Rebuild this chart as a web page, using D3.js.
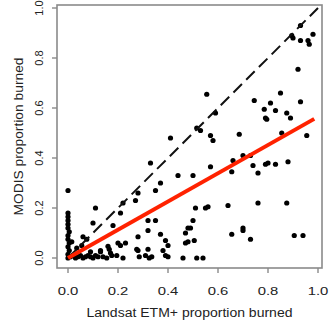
<html>
<head>
<script src="https://d3js.org/d3.v7.min.js"></script>
<style>
body { margin: 0; background: #fff; }
svg { display: block; }
text { font-family: "Liberation Sans", Arial, sans-serif; fill: #222; }
</style>
</head>
<body>
<svg></svg>
<script>

var width = 329;
var height = 323;

// Landsat ETM+ proportion burned (x) vs MODIS proportion burned (y)
var landsat = [
	0.93, 0.895, 0.90, 0.93, 0.96, 0.965, 0.98, 0.92,
	0.555, 0.85, 0.745, 0.81, 0.93, 0.59, 0.785, 0.83, 0.875, 0.89, 0.79, 0.795,
	0.53, 0.515, 0.57, 0.58, 0.685, 0.855, 0.955, 0.41,
	0.50, 0.57, 0.655, 0.66, 0.70, 0.73, 0.74, 0.76, 0.79, 0.80, 0.83, 0.88,
	0.51, 0.55, 0.56, 0.64, 0.76, 0.875,
	0.50, 0.49, 0.505, 0.655, 0.70, 0.70, 0.73, 0.905, 0.94, 0.54,
	0.33, 0.44, 0.37, 0.35, 0.28, 0.27, 0.22, 0.11, 0.10, 0.21, 0.32, 0.35, 0.18, 0.32,
	0.48, 0.47, 0.28, 0.37, 0.39, 0.06, 0.075, 0.16, 0.20, 0.21, 0.13, 0.165, 0.175,
	0.22, 0.275, 0.32, 0.285, 0.325, 0.40, 0.46, 0.515, 0.0,
	0.0, 0.0, 0.0, 0.0, 0.0, 0.005, 0.0, 0.0, 0.005, 0.0, 0.005, 0.0, 0.0,
	0.01, 0.02, 0.03, 0.04, 0.05, 0.06, 0.07, 0.08, 0.09, 0.10, 0.11, 0.12, 0.14, 0.155,
	0.17, 0.23, 0.195, 0.28, 0.31, 0.335, 0.39, 0.38, 0.09, 0.13, 0.055, 0.035, 0.015,
	0.40, 0.47, 0.48
];
var modis = [
	0.93, 0.89, 0.88, 0.87, 0.87, 0.855, 0.895, 0.755,
	0.655, 0.66, 0.63, 0.62, 0.625, 0.58, 0.595, 0.59, 0.58, 0.56, 0.56, 0.555,
	0.51, 0.52, 0.49, 0.47, 0.495, 0.50, 0.49, 0.48,
	0.33, 0.365, 0.345, 0.39, 0.41, 0.41, 0.37, 0.34, 0.375, 0.38, 0.375, 0.385,
	0.20, 0.20, 0.205, 0.21, 0.22, 0.22,
	0.15, 0.12, 0.07, 0.095, 0.12, 0.11, 0.075, 0.09, 0.09, 0.0,
	0.38, 0.33, 0.30, 0.27, 0.26, 0.23, 0.22, 0.20, 0.14, 0.18, 0.15, 0.15, 0.13, 0.11,
	0.12, 0.10, 0.085, 0.095, 0.07, 0.085, 0.075, 0.047, 0.06, 0.05, 0.025, 0.035, 0.01,
	0.0, 0.035, 0.035, 0.005, 0.0, 0.005, 0.0, 0.0, 0.27,
	0.18, 0.165, 0.15, 0.135, 0.12, 0.105, 0.09, 0.075, 0.06, 0.045, 0.03, 0.015, 0.0,
	0.005, 0.01, 0.0, 0.005, 0.01, 0.0, 0.005, 0.01, 0.005, 0.0, 0.01, 0.005, 0.005, 0.0,
	0.02, 0.06, 0.01, 0.03, 0.01, 0.005, 0.01, 0.03, 0.025, 0.03, 0.05, 0.04, 0.065,
	0.05, 0.06, 0.065
];

var ticks = [0.0, 0.2, 0.4, 0.6, 0.8, 1.0];
var tickLabels = ["0.0", "0.2", "0.4", "0.6", "0.8", "1.0"];

// 1:1 reference line and fitted regression
var oneToOne = [[0, 0], [1, 1]];
var fitIntercept = 0.0;
var fitSlope = 0.565;
var fitRange = [0, 0.985];

var svg = d3.select("svg").attr("width", width).attr("height", height);

var xScale = d3.scaleLinear().domain([0, 1]).range([68, 318]);
var yScale = d3.scaleLinear().domain([0, 1]).range([258, 8]);

// frame (cropped figure, so the box edges sit a little off the usual 4%)
var box = { x0: -0.044, x1: 1.016, y0: -0.04, y1: 1.012 };
svg.append("rect")
.attr("x", xScale(box.x0))
.attr("y", yScale(box.y1))
.attr("width", xScale(box.x1) - xScale(box.x0))
.attr("height", yScale(box.y0) - yScale(box.y1))
.style("fill", "none")
.style("stroke", "#8a8a8a")
.style("stroke-width", 1.6);

// x axis ticks + labels
var xAxis = svg.append("g").attr("transform", "translate(0," + yScale(box.y0) + ")");
xAxis.selectAll("line").data(ticks).enter().append("line")
.attr("x1", function (d) { return xScale(d); })
.attr("x2", function (d) { return xScale(d); })
.attr("y1", 0).attr("y2", 5)
.style("stroke", "#8a8a8a").style("stroke-width", 1.4);
xAxis.selectAll("text").data(ticks).enter().append("text")
.attr("transform", function (d) { return "translate(" + xScale(d) + ",27) scale(1.35,1)"; })
.attr("text-anchor", "middle")
.style("font-size", "11px")
.text(function (d, i) { return tickLabels[i]; });

// y axis ticks + labels
var yAxis = svg.append("g").attr("transform", "translate(" + xScale(box.x0) + ",0)");
yAxis.selectAll("line").data(ticks).enter().append("line")
.attr("y1", function (d) { return yScale(d); })
.attr("y2", function (d) { return yScale(d); })
.attr("x1", 0).attr("x2", -5)
.style("stroke", "#8a8a8a").style("stroke-width", 1.4);
yAxis.selectAll("text").data(ticks).enter().append("text")
.attr("transform", function (d) { return "translate(-14," + yScale(d) + ") rotate(-90)"; })
.attr("text-anchor", "middle")
.style("font-size", "11px")
.text(function (d, i) { return tickLabels[i]; });

// axis titles
var midX = (xScale(box.x0) + xScale(box.x1)) / 2;
var midY = (yScale(box.y0) + yScale(box.y1)) / 2;
svg.append("text")
.attr("x", midX).attr("y", 317)
.attr("text-anchor", "middle")
.attr("textLength", 206).attr("lengthAdjust", "spacingAndGlyphs")
.style("font-size", "12px")
.text("Landsat ETM+ proportion burned");
svg.append("text")
.attr("transform", "translate(23," + midY + ") rotate(-90)")
.attr("text-anchor", "middle")
.attr("textLength", 158).attr("lengthAdjust", "spacingAndGlyphs")
.style("font-size", "13px")
.text("MODIS proportion burned");

// points
var points = d3.zip(landsat, modis);
svg.selectAll("circle").data(points).enter().append("circle")
.attr("cx", function (d) { return xScale(d[0]); })
.attr("cy", function (d) { return yScale(d[1]); })
.attr("r", 2.6)
.style("fill", "#000");

var line = d3.line()
.x(function (d) { return xScale(d[0]); })
.y(function (d) { return yScale(d[1]); });

svg.append("path")
.datum(oneToOne)
.attr("d", line)
.style("fill", "none")
.style("stroke", "#111")
.style("stroke-width", 2)
.style("stroke-dasharray", "12,6");

svg.append("path")
.datum(fitRange.map(function (x) { return [x, fitIntercept + fitSlope * x]; }))
.attr("d", line)
.style("fill", "none")
.style("stroke", "#ff2200")
.style("stroke-width", 4);

</script>
</body>
</html>
